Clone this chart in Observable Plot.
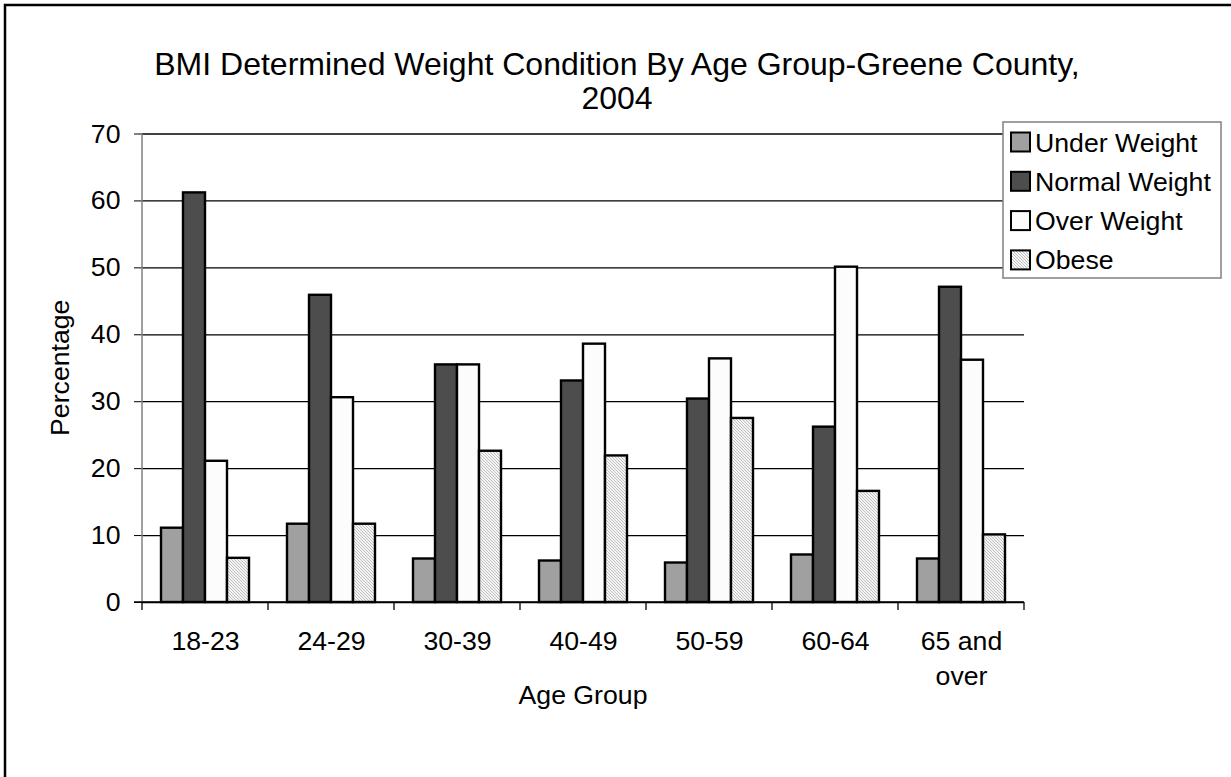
<!DOCTYPE html>
<html>
<head>
<meta charset="utf-8">
<script src="https://cdn.jsdelivr.net/npm/d3@7"></script>
<script src="https://cdn.jsdelivr.net/npm/@observablehq/plot@0.6"></script>
<style>
  html, body { margin: 0; padding: 0; background: #fff; }
  svg { display: block; }
</style>
</head>
<body>
<div id="chart"></div>
<script>
const ages = ["18-23", "24-29", "30-39", "40-49", "50-59", "60-64", "65 and over"];
const series = ["Under Weight", "Normal Weight", "Over Weight", "Obese"];
const underWeight = [11.1, 11.7, 6.5, 6.2, 5.9, 7.1, 6.5];
const normalWeight = [61.2, 45.9, 35.5, 33.1, 30.4, 26.2, 47.1];
const overWeight = [21.1, 30.6, 35.5, 38.6, 36.4, 50.1, 36.2];
const obese = [6.6, 11.7, 22.6, 21.9, 27.5, 16.6, 10.1];
const yTicks = [0, 10, 20, 30, 40, 50, 60, 70];
const titleLines = ["BMI Determined Weight Condition By Age Group-Greene County,", "2004"];
const xTitle = "Age Group";
const yTitle = "Percentage";
const colors = ["#a0a0a0", "#4d4d4d", "#fcfcfc", "url(#hatch)"];

const valuesBySeries = [underWeight, normalWeight, overWeight, obese];
const data = [];
ages.forEach((a, i) => series.forEach((s, j) => data.push({age: a, series: s, value: valuesBySeries[j][i]})));

const W = 1231, H = 777;
const mL = 140, mR = 205, mT = 133.5, mB = 175;
const FONT = "'Liberation Sans', Arial, sans-serif";

const chart = Plot.plot({
  width: W, height: H,
  marginLeft: mL, marginRight: mR, marginTop: mT, marginBottom: mB,
  style: {fontFamily: FONT, fontSize: "26.67px", color: "#000", background: "transparent"},
  fx: {domain: ages, padding: 0, label: null},
  x: {domain: series, paddingInner: 0, paddingOuter: 0.75, axis: null},
  y: {domain: [0, 70], label: null},
  color: {type: "ordinal", domain: series, range: colors},
  marks: [
    Plot.gridY(yTicks, {stroke: "#000", strokeOpacity: 1, strokeWidth: 1.3}),
    Plot.barY(data, {fx: "age", x: "series", y: "value", fill: "series", stroke: "#000", strokeWidth: 2.4}),
    Plot.axisY(yTicks, {tickSize: 8, tickPadding: 14, label: null, fontSize: 26.67, stroke: "#000"}),
    Plot.axisFx({anchor: "bottom", tickSize: 0, tickPadding: 23, label: null, fontSize: 26.67, lineHeight: 1.3,
      tickFormat: d => d === "65 and over" ? "65 and\nover" : d})
  ]
});

const svg = d3.select(chart);
const defs = svg.insert("defs", ":first-child");
const pat = defs.append("pattern").attr("id", "hatch").attr("patternUnits", "userSpaceOnUse")
  .attr("width", 3).attr("height", 3);
pat.append("rect").attr("width", 3).attr("height", 3).attr("fill", "#f4f4f4");
pat.append("path").attr("d", "M0,0 L3,3 M-1,2 L1,4 M2,-1 L4,1").attr("stroke", "#c0c0c0").attr("stroke-width", 1);

const fx = chart.scale("fx");
const y = chart.scale("y");
const y0 = y.apply(0), yTop = y.apply(70);
const bounds = ages.map(a => fx.apply(a));
bounds.push(fx.apply(ages[ages.length - 1]) + fx.bandwidth);
const xLeft = bounds[0], xRight = bounds[bounds.length - 1];

const g = svg.append("g").attr("text-anchor", "start");
// y axis line
g.append("line").attr("x1", xLeft).attr("x2", xLeft).attr("y1", yTop).attr("y2", y0)
  .attr("stroke", "#808080").attr("stroke-width", 1.5);
// x axis line and boundary ticks
g.append("line").attr("x1", xLeft - 8).attr("x2", xRight).attr("y1", y0).attr("y2", y0)
  .attr("stroke", "#000").attr("stroke-width", 1.3);
bounds.forEach(b => g.append("line").attr("x1", b).attr("x2", b).attr("y1", y0).attr("y2", y0 + 8)
  .attr("stroke", "#000").attr("stroke-width", 1.3));

// titles
g.selectAll("text.title").data(titleLines).join("text")
  .attr("x", 617).attr("y", (d, i) => 75 + i * 34)
  .attr("text-anchor", "middle").attr("font-family", FONT).attr("font-size", 32).attr("fill", "#000")
  .text(d => d);
g.append("text").attr("x", (xLeft + xRight) / 2).attr("y", 704).attr("text-anchor", "middle")
  .attr("font-family", FONT).attr("font-size", 26.67).text(xTitle);
g.append("text").attr("transform", `translate(69,${(yTop + y0) / 2}) rotate(-90)`).attr("text-anchor", "middle")
  .attr("font-family", FONT).attr("font-size", 26.67).text(yTitle);

// legend
const lg = g.append("g");
lg.append("rect").attr("x", 1003).attr("y", 122).attr("width", 218).attr("height", 156)
  .attr("fill", "#fff").attr("stroke", "#808080").attr("stroke-width", 1.5);
series.forEach((s, i) => {
  const cy = 142 + i * 39.3;
  lg.append("rect").attr("x", 1011).attr("y", cy - 9.5).attr("width", 19).attr("height", 19)
    .attr("fill", colors[i]).attr("stroke", "#000").attr("stroke-width", 2);
  lg.append("text").attr("x", 1035).attr("y", cy + 9.5).attr("text-anchor", "start")
    .attr("font-family", FONT).attr("font-size", 26.67).text(s);
});

// outer border (left and top)
g.append("path").attr("d", `M5,${H} V5 H${W}`).attr("fill", "none").attr("stroke", "#000").attr("stroke-width", 2.5);

document.getElementById("chart").appendChild(chart);
</script>
</body>
</html>
